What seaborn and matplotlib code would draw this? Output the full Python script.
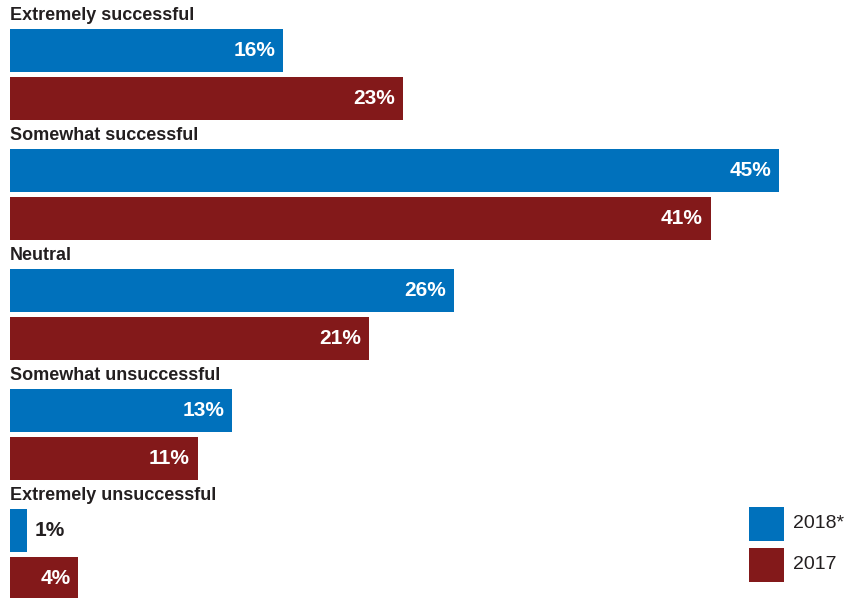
import matplotlib
matplotlib.use("Agg")
import matplotlib.pyplot as plt
from matplotlib.patches import Rectangle
import seaborn as sns
import pandas as pd

categories = ["Extremely successful", "Somewhat successful", "Neutral",
              "Somewhat unsuccessful", "Extremely unsuccessful"]
years = ["2018*", "2017"]
values_2018 = [16, 45, 26, 13, 1]
values_2017 = [23, 41, 21, 11, 4]

colors = {"2018*": "#0071BC", "2017": "#83191A"}
text_dark = "#231F20"

df = pd.DataFrame({
    "category": categories * 2,
    "year": [years[0]] * len(categories) + [years[1]] * len(categories),
    "value": values_2018 + values_2017,
})

sns.set_theme(style="white")
plt.rcParams["font.family"] = ["Liberation Sans", "DejaVu Sans"]

fig = plt.figure(figsize=(8.49, 5.98), dpi=100)
ax = fig.add_axes([0, 0, 1, 1])

sns.barplot(data=df, y="category", x="value", hue="year", order=categories,
            hue_order=years, palette=colors, saturation=1, width=0.8, gap=0.1,
            orient="h", legend=False, linewidth=0, edgecolor="none", ax=ax)

ax.set_xlim(-0.585, 49.1)
ax.set_ylim(4.36, -0.62)
ax.set_axis_off()

# Category headings above each pair of bars
for i, cat in enumerate(categories):
    ax.text(0, i - 0.49, cat, ha="left", va="center", fontsize=13,
            fontweight="bold", color=text_dark)

# Value labels: inside the bar in white, outside in dark when the bar is too short
for container, vals in zip(ax.containers, [values_2018, values_2017]):
    for bar, v in zip(container, vals):
        yc = bar.get_y() + bar.get_height() / 2
        label = f"{v}%"
        if v >= 3:
            ax.annotate(label, (v, yc), xytext=(-8, 0), textcoords="offset pixels",
                        ha="right", va="center", fontsize=15, fontweight="bold",
                        color="white")
        else:
            ax.annotate(label, (v, yc), xytext=(8, 0), textcoords="offset pixels",
                        ha="left", va="center", fontsize=15, fontweight="bold",
                        color=text_dark)

# Legend: colour squares with year labels in the lower-right corner
sq_x, sq_w, sq_h = 0.8822, 0.0412, 0.0569
for year, y0 in zip(years, [0.0953, 0.0268]):
    fig.patches.append(Rectangle((sq_x, y0), sq_w, sq_h, transform=fig.transFigure,
                                 facecolor=colors[year], edgecolor="none"))
    fig.text(0.934, y0 + sq_h / 2, year, ha="left", va="center", fontsize=14,
             color=text_dark)

fig.savefig("out.png", dpi=100)
